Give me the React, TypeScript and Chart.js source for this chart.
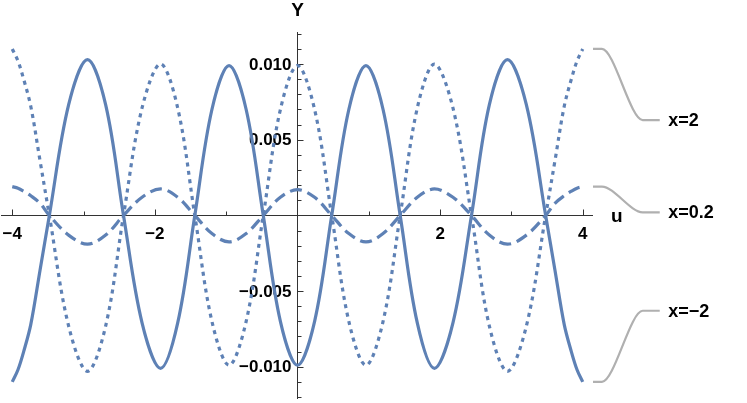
import { useEffect, useRef } from "react";
import { Chart, registerables } from "chart.js";

Chart.register(...registerables);

// ---- data ----
const U = [-4, -3.92, -3.84, -3.74, -3.61, -3.48, -3.21, -2.945, -2.69, -2.44, -2.18, -1.92, -1.68, -1.44, -1.2, -0.96, -0.72, -0.48, -0.24, 0, 0.24, 0.48, 0.72, 0.96, 1.2, 1.44, 1.68, 1.92, 2.18, 2.44, 2.69, 2.945, 3.21, 3.48, 3.61, 3.74, 3.84, 3.92, 4];

// x = 2 (dotted)
const Y_X2 = [0.011, 0.0102, 0.009, 0.0072, 0.0036, 0, -0.0073, -0.0103, -0.0073, 0, 0.0071, 0.01, 0.0071, 0, -0.007, -0.0099, -0.007, 0, 0.007, 0.0099, 0.007, 0, -0.007, -0.0099, -0.007, 0, 0.0071, 0.01, 0.0071, 0, -0.0073, -0.0103, -0.0073, 0, 0.0036, 0.0072, 0.009, 0.0102, 0.011];

// x = 0.2 (dashed)
const Y_X02 = [0.0019, 0.0018, 0.0016, 0.0013, 0.0008, 0, -0.0013, -0.0019, -0.0013, 0, 0.0012, 0.00175, 0.0012, 0, -0.0012, -0.00175, -0.0012, 0, 0.0012, 0.0017, 0.0012, 0, -0.0012, -0.00175, -0.0012, 0, 0.0012, 0.00175, 0.0012, 0, -0.0013, -0.0019, -0.0013, 0, 0.0008, 0.0013, 0.0016, 0.0018, 0.0019];

// x = -2 (solid)
const Y_XM2 = [-0.011, -0.0102, -0.009, -0.0072, -0.0036, 0, 0.0073, 0.0103, 0.0073, 0, -0.0071, -0.0101, -0.0071, 0, 0.007, 0.0099, 0.007, 0, -0.007, -0.0099, -0.007, 0, 0.007, 0.0099, 0.007, 0, -0.0071, -0.0101, -0.0071, 0, 0.0073, 0.0103, 0.0073, 0, -0.0036, -0.0072, -0.009, -0.0102, -0.011];

const SERIES_LABELS = ["x=2", "x=0.2", "x=\u22122"];
const LEGEND_Y = [0.0063, 0.0002, -0.0063];

const X_MIN = -4.158;
const X_MAX = 4.144;
const Y_MIN = -0.01213;
const Y_MAX = 0.01212;

const X_MAJOR = [-4, -2, 2, 4];
const X_MAJOR_LABELS = ["\u22124", "\u22122", "2", "4"];
const X_MINOR = [-3, -1, 1, 3];
const Y_MAJOR = [-0.01, -0.005, 0.005, 0.01];
const Y_MAJOR_LABELS = ["\u22120.010", "\u22120.005", "0.005", "0.010"];
const Y_MINOR = [-0.012, -0.011, -0.009, -0.008, -0.007, -0.006, -0.004, -0.003, -0.002, -0.001, 0.001, 0.002, 0.003, 0.004, 0.006, 0.007, 0.008, 0.009, 0.011, 0.012];

const X_AXIS_TITLE = "u";
const Y_AXIS_TITLE = "Y";

// callout path (in u units beyond the plot)
const CALLOUT_U = [4.27, 4.84, 5.08];
const LABEL_U = 5.2;

const BLUE = "#5e81b5";
const GRAY = "#b0b0b0";
const AXIS = "#333333";
const FONT = "'Liberation Sans', Arial, sans-serif";

const axesPlugin = {
  id: "mmaAxes",
  beforeDatasetsDraw(chart: any) {
    const { ctx } = chart;
    const xs = chart.scales.x;
    const ys = chart.scales.y;
    const x0 = Math.round(xs.getPixelForValue(0)) + 0.5;
    const y0 = Math.round(ys.getPixelForValue(0)) + 0.5;
    ctx.save();
    ctx.strokeStyle = AXIS;
    ctx.lineWidth = 1;
    ctx.beginPath();
    ctx.moveTo(xs.left, y0);
    ctx.lineTo(xs.right, y0);
    ctx.moveTo(x0, ys.top);
    ctx.lineTo(x0, ys.bottom);
    X_MAJOR.forEach((v) => {
      const p = Math.round(xs.getPixelForValue(v)) + 0.5;
      ctx.moveTo(p, y0);
      ctx.lineTo(p, y0 - 6);
    });
    X_MINOR.forEach((v) => {
      const p = Math.round(xs.getPixelForValue(v)) + 0.5;
      ctx.moveTo(p, y0);
      ctx.lineTo(p, y0 - 4);
    });
    Y_MAJOR.forEach((v) => {
      const p = Math.round(ys.getPixelForValue(v)) + 0.5;
      ctx.moveTo(x0, p);
      ctx.lineTo(x0 + 6, p);
    });
    Y_MINOR.forEach((v) => {
      const p = Math.round(ys.getPixelForValue(v)) + 0.5;
      ctx.moveTo(x0, p);
      ctx.lineTo(x0 + 4, p);
    });
    ctx.stroke();

    ctx.fillStyle = "#000";
    ctx.font = `bold 17px ${FONT}`;
    ctx.textAlign = "center";
    ctx.textBaseline = "middle";
    X_MAJOR.forEach((v, i) => {
      ctx.fillText(X_MAJOR_LABELS[i], xs.getPixelForValue(v), y0 + 19);
    });
    ctx.textAlign = "right";
    Y_MAJOR.forEach((v, i) => {
      ctx.fillText(Y_MAJOR_LABELS[i], x0 - 6, ys.getPixelForValue(v) + 1);
    });
    ctx.font = `bold 19px ${FONT}`;
    ctx.textAlign = "center";
    ctx.fillText(Y_AXIS_TITLE, x0, ys.top - 21);
    ctx.textAlign = "left";
    ctx.fillText(X_AXIS_TITLE, xs.right + 18, y0 + 1);
    ctx.restore();
  },
  afterDatasetsDraw(chart: any) {
    const { ctx } = chart;
    const xs = chart.scales.x;
    const ys = chart.scales.y;
    const series = [Y_X2, Y_X02, Y_XM2];
    ctx.save();
    ctx.strokeStyle = GRAY;
    ctx.lineWidth = 2.2;
    ctx.lineCap = "butt";
    series.forEach((s, i) => {
      const ya = ys.getPixelForValue(s[s.length - 1]);
      const yb = ys.getPixelForValue(LEGEND_Y[i]);
      const xa = xs.getPixelForValue(X_MAX);
      const x1 = xs.getPixelForValue(CALLOUT_U[0]);
      const x2 = xs.getPixelForValue(CALLOUT_U[1]);
      const x3 = xs.getPixelForValue(CALLOUT_U[2]);
      const k = (x2 - x1) * 0.3;
      ctx.beginPath();
      ctx.moveTo(xa, ya);
      ctx.lineTo(x1, ya);
      ctx.bezierCurveTo(x1 + k, ya, x2 - k, yb, x2, yb);
      ctx.lineTo(x3, yb);
      ctx.stroke();
    });
    ctx.fillStyle = "#000";
    ctx.font = `bold 18px ${FONT}`;
    ctx.textAlign = "left";
    ctx.textBaseline = "middle";
    SERIES_LABELS.forEach((t, i) => {
      ctx.fillText(t, xs.getPixelForValue(LABEL_U), ys.getPixelForValue(LEGEND_Y[i]) + 1);
    });
    ctx.restore();
  },
};

export default function App() {
  const ref = useRef<HTMLCanvasElement | null>(null);
  useEffect(() => {
    if (!ref.current) return;
    const mk = (ys: number[]) => U.map((u, i) => ({ x: u, y: ys[i] }));
    const chart = new Chart(ref.current, {
      type: "line",
      data: {
        datasets: [
          {
            label: SERIES_LABELS[0],
            data: mk(Y_X2),
            borderColor: BLUE,
            borderWidth: 3.2,
            borderDash: [4, 4.5],
            pointRadius: 0,
            tension: 0.35,
            fill: false,
          },
          {
            label: SERIES_LABELS[1],
            data: mk(Y_X02),
            borderColor: BLUE,
            borderWidth: 3.2,
            borderDash: [12, 6],
            pointRadius: 0,
            tension: 0.35,
            fill: false,
          },
          {
            label: SERIES_LABELS[2],
            data: mk(Y_XM2),
            borderColor: BLUE,
            borderWidth: 3.2,
            pointRadius: 0,
            tension: 0.35,
            fill: false,
          },
        ],
      },
      options: {
        animation: false,
        responsive: false,
        devicePixelRatio: 1,
        layout: { padding: { left: 1, right: 154, top: 32, bottom: 4 } },
        plugins: { legend: { display: false }, tooltip: { enabled: false }, title: { display: false } },
        scales: {
          x: { type: "linear", min: X_MIN, max: X_MAX, display: false },
          y: { type: "linear", min: Y_MIN, max: Y_MAX, display: false },
        },
      },
      plugins: [axesPlugin],
    });
    return () => chart.destroy();
  }, []);
  return (
    <div style={{ position: "absolute", left: 0, top: 0, width: 747, height: 403, background: "#fff" }}>
      <canvas ref={ref} width={747} height={403} style={{ display: "block", width: 747, height: 403 }} />
    </div>
  );
}
